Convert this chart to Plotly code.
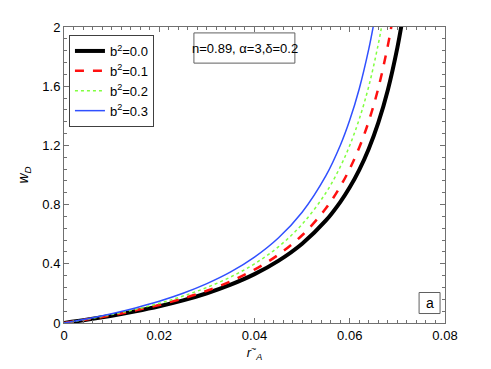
import plotly.graph_objects as go

# r_A values (x) and w_D for each b^2
r_black = [0, 0.005, 0.01, 0.015, 0.02, 0.025, 0.03, 0.035, 0.04, 0.045, 0.05, 0.055, 0.058, 0.06, 0.062, 0.064, 0.066, 0.068, 0.07, 0.071, 0.072]
w_black = [0, 0.023, 0.049, 0.079, 0.113, 0.153, 0.201, 0.259, 0.330, 0.420, 0.536, 0.693, 0.817, 0.917, 1.035, 1.178, 1.354, 1.575, 1.861, 2.039, 2.248]

r_red = [0, 0.005, 0.01, 0.015, 0.02, 0.025, 0.03, 0.035, 0.04, 0.045, 0.05, 0.055, 0.058, 0.06, 0.062, 0.064, 0.066, 0.068, 0.069, 0.07]
w_red = [0, 0.025, 0.052, 0.085, 0.122, 0.166, 0.218, 0.282, 0.361, 0.461, 0.593, 0.775, 0.922, 1.042, 1.186, 1.364, 1.587, 1.875, 2.054, 2.263]

r_green = [0, 0.005, 0.01, 0.015, 0.02, 0.025, 0.03, 0.035, 0.04, 0.045, 0.05, 0.055, 0.058, 0.06, 0.062, 0.064, 0.066, 0.067, 0.068]
w_green = [0, 0.027, 0.057, 0.092, 0.133, 0.182, 0.240, 0.311, 0.400, 0.514, 0.667, 0.880, 1.055, 1.200, 1.378, 1.600, 1.886, 2.060, 2.267]

r_blue = [0, 0.005, 0.01, 0.015, 0.02, 0.025, 0.03, 0.035, 0.04, 0.045, 0.05, 0.055, 0.058, 0.06, 0.062, 0.064, 0.065, 0.066]
w_blue = [0, 0.029, 0.063, 0.102, 0.147, 0.201, 0.266, 0.345, 0.445, 0.574, 0.748, 0.995, 1.199, 1.371, 1.583, 1.852, 2.015, 2.203]

labels = ["b<sup>2</sup>=0.0", "b<sup>2</sup>=0.1", "b<sup>2</sup>=0.2", "b<sup>2</sup>=0.3"]

fig = go.Figure()
fig.add_trace(go.Scatter(x=r_black, y=w_black, mode="lines", name=labels[0],
                         line=dict(color="black", width=4, shape="spline")))
fig.add_trace(go.Scatter(x=r_red, y=w_red, mode="lines", name=labels[1],
                         line=dict(color="#ff1010", width=2.5, dash="dash", shape="spline")))
fig.add_trace(go.Scatter(x=r_green, y=w_green, mode="lines", name=labels[2],
                         line=dict(color="#80ff40", width=1.5, dash="dot", shape="spline")))
fig.add_trace(go.Scatter(x=r_blue, y=w_blue, mode="lines", name=labels[3],
                         line=dict(color="#3050ff", width=1.5, shape="spline")))

axis_style = dict(showline=True, linecolor="#707070", linewidth=1, mirror="ticks",
                  ticks="inside", ticklen=5, tickcolor="#707070",
                  showgrid=False, zeroline=False,
                  tickfont=dict(size=13, color="black"))

fig.update_xaxes(range=[0, 0.08], dtick=0.02,
                 minor=dict(dtick=0.002, ticks="inside", ticklen=3, tickcolor="#707070"),
                 title=dict(text="<i>r</i><sup>~</sup><sub><i>A</i></sub>", font=dict(size=13), standoff=6),
                 **axis_style)
fig.update_yaxes(range=[0, 2], dtick=0.4,
                 minor=dict(dtick=0.08, ticks="inside", ticklen=3, tickcolor="#707070"),
                 title=dict(text="<i>w</i><sub><i>D</i></sub>", font=dict(size=14), standoff=10),
                 **axis_style)

# text boxes
fig.add_shape(type="rect", xref="paper", yref="paper", x0=0.341, x1=0.606, y0=0.878, y1=0.980,
              line=dict(color="#606060", width=1), fillcolor="white", layer="below")
fig.add_annotation(text="n=0.89, α=3,δ=0.2", xref="paper", yref="paper", x=0.474, y=0.929,
                   xanchor="center", yanchor="middle",
                   showarrow=False, font=dict(size=13, color="black"))
fig.add_shape(type="rect", xref="paper", yref="paper", x0=0.932, x1=0.987, y0=0.032, y1=0.103,
              line=dict(color="#606060", width=1), fillcolor="white", layer="below")
fig.add_annotation(text="a", xref="paper", yref="paper", x=0.96, y=0.068,
                   xanchor="center", yanchor="middle",
                   showarrow=False, font=dict(size=14, color="black"))

fig.update_layout(
    width=491, height=369,
    margin=dict(l=64, r=46, t=27, b=46),
    plot_bgcolor="white", paper_bgcolor="white",
    font=dict(family="Liberation Sans, Arial, sans-serif", size=13, color="black"),
    legend=dict(x=0.013, y=0.973, xanchor="left", yanchor="top",
                bgcolor="white", bordercolor="#404040", borderwidth=1,
                font=dict(size=13), tracegroupgap=0, itemwidth=30),
)

# page body has an 8px default margin; remove it so the figure sits at (0, 0)
fig.write_html("out.html", config={"displayModeBar": False},
               post_script="document.body.style.margin='0';")
